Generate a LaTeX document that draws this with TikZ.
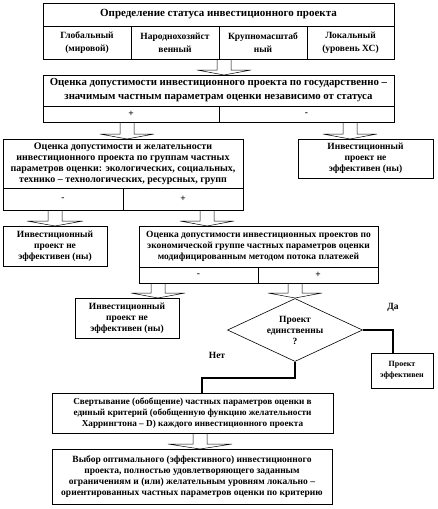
\documentclass[tikz,border=0pt]{standalone}
\usepackage{fontspec}
\setmainfont{Liberation Serif}
\usetikzlibrary{shapes.geometric}

\begin{document}
\begin{tikzpicture}[x=1pt, y=-1pt, line width=0.6pt,
    box/.style={draw, rectangle, inner sep=0pt, align=center, font=\bfseries\fontsize{9.5}{11}\selectfont},
    cell/.style={box, font=\bfseries\fontsize{9.5}{13}\selectfont},
    label/.style={font=\bfseries\fontsize{9.5}{11}\selectfont},
    conn/.style={line width=2.5pt},
    blockarrow/.style={draw, fill=white, line width=0.5pt}]

    \useasboundingbox (0,0) rectangle (437,509);

    % ==========================================
    % Block arrows between the boxes
    % ==========================================
    \foreach \x/\ya/\yb/\h in {224/59/75/27, 127/122/139/27, 350/122/139/27,
                               55/210/226/28, 207/210/226/27, 158/283/298/27,
                               295/283/298/27, 200/433/449/32}
        \draw[blockarrow] (\x-7,\ya) -- (\x-7,\yb-5) -- (\x-\h,\yb-5) -- (\x,\yb)
            -- (\x+\h,\yb-5) -- (\x+7,\yb-5) -- (\x+7,\ya);

    % ==========================================
    % Status of the project
    % ==========================================
    \node[box, minimum width=351pt, minimum height=23pt, font=\bfseries\fontsize{11}{13}\selectfont] (status) at (218.5,14.5)
        {Определение статуса инвестиционного проекта};
    \node[cell, minimum width=88pt, minimum height=33pt] (global) at (87,42.5) {Глобальный\\(мировой)};
    \node[cell, minimum width=88pt, minimum height=33pt] (national) at (175,42.5) {Народнохозяйст\\венный};
    \node[cell, minimum width=88pt, minimum height=33pt] (large) at (263,42.5) {Крупномасштаб\\ный};
    \node[cell, minimum width=87pt, minimum height=33pt] (local) at (350.5,42.5) {Локальный\\(уровень ХС)};

    % State significant parameters
    \node[box, minimum width=351pt, minimum height=31pt, font=\bfseries\fontsize{10.8}{14}\selectfont] (state) at (218.5,90.5)
        {Оценка допустимости инвестиционного проекта по государственно –\\значимым частным параметрам оценки независимо от статуса};
    \node[box, minimum width=176pt, minimum height=16pt] (stateplus) at (131,114) {+};
    \node[box, minimum width=175pt, minimum height=16pt] (stateminus) at (306.5,114) {-};

    % ==========================================
    % Groups of parameters (left) and rejection (right)
    % ==========================================
    \node[box, minimum width=240pt, minimum height=49pt, font=\bfseries\fontsize{10}{11}\selectfont] (groups) at (123,163.5)
        {Оценка допустимости и желательности\\инвестиционного проекта по группам частных\\параметров оценки: экологических, социальных,\\технико – технологических, ресурсных, групп};
    \node[box, minimum width=120pt, minimum height=22pt] (groupsminus) at (63,199) {-};
    \node[box, minimum width=120pt, minimum height=22pt] (groupsplus) at (183,199) {+};

    \node[box, minimum width=135pt, minimum height=39pt] (ineffA) at (365.5,158.5)
        {Инвестиционный\\проект не\\эффективен (ны)};

    % ==========================================
    % Economic group of parameters
    % ==========================================
    \node[box, minimum width=104pt, minimum height=40pt] (ineffB) at (55,246)
        {Инвестиционный\\проект не\\эффективен (ны)};

    \node[box, minimum width=239pt, minimum height=41pt] (econ) at (258.5,246.5)
        {Оценка допустимости инвестиционных проектов по\\экономической группе частных параметров оценки\\модифицированным методом потока платежей};
    \node[box, minimum width=119pt, minimum height=16pt] (econminus) at (198.5,275) {-};
    \node[box, minimum width=120pt, minimum height=16pt] (econplus) at (318,275) {+};

    \node[box, minimum width=104pt, minimum height=40pt] (ineffC) at (127,318)
        {Инвестиционный\\проект не\\эффективен (ны)};

    % Decision: single project?
    \node[box, shape=diamond, aspect=2.14, minimum width=135pt, minimum height=63pt] (single) at (295,330)
        {Проект\\единственны\\?};
    \node[label] (yes) at (393,307) {Да};
    \node[label] (no) at (217,355) {Нет};

    \node[box, minimum width=62pt, minimum height=35pt, font=\bfseries\fontsize{8}{11}\selectfont] (effective) at (402,370.5)
        {Проект\\эффективен};

    % Thick connectors
    \draw[conn] (single.east) -| ([xshift=-9pt]effective.north);
    \coordinate (bend) at (202,378);
    \draw[conn] (single.south) |- (bend) -- (bend |- 0,393);

    % ==========================================
    % Folding and final choice
    % ==========================================
    \node[box, minimum width=281pt, minimum height=40pt, font=\bfseries\fontsize{9.2}{11}\selectfont] (fold) at (192.5,413)
        {Свертывание (обобщение) частных параметров оценки в\\единый критерий (обобщенную функцию желательности\\Харрингтона – D) каждого инвестиционного проекта};

    \node[box, minimum width=280pt, minimum height=55pt] (choice) at (192,476.5)
        {Выбор оптимального (эффективного) инвестиционного\\проекта, полностью удовлетворяющего заданным\\ограничениям и (или) желательным уровням локально –\\ориентированных частных параметров оценки по критерию};

\end{tikzpicture}
\end{document}
